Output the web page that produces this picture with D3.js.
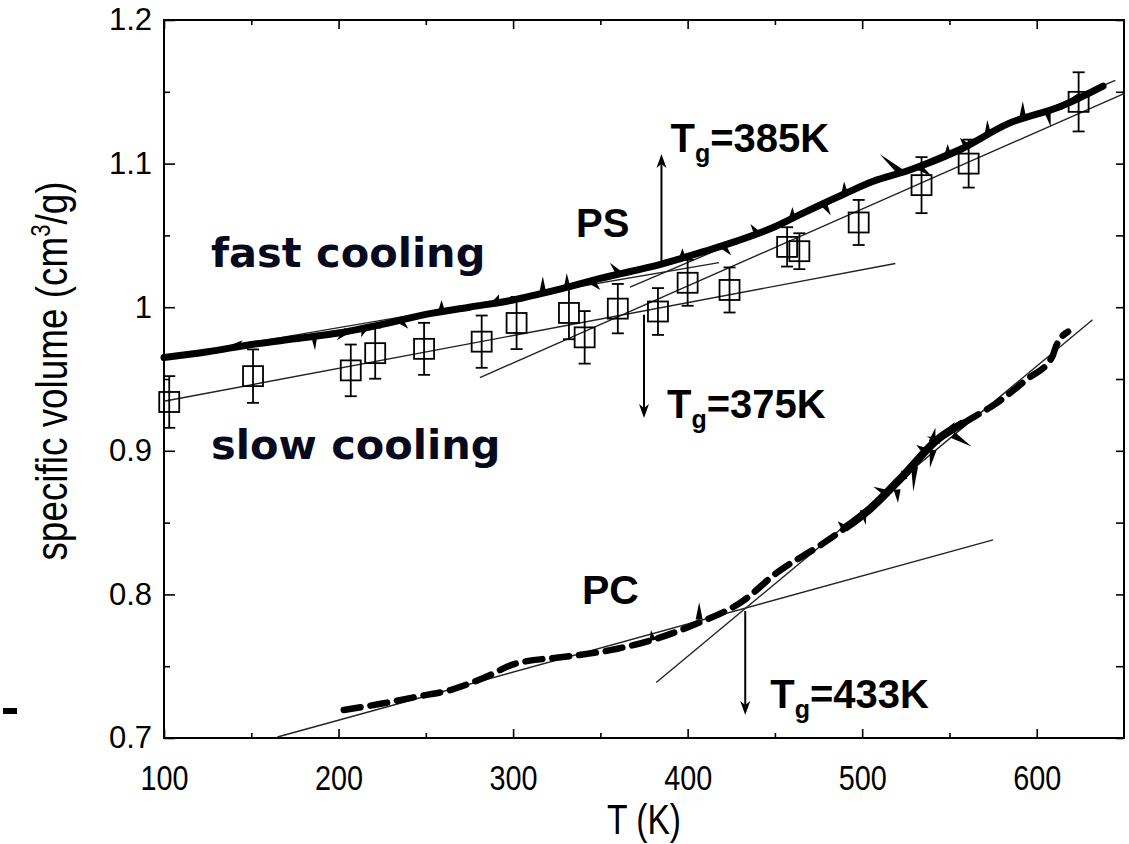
<!DOCTYPE html>
<html>
<head>
<meta charset="utf-8">
<script src="https://cdn.jsdelivr.net/npm/d3@7"></script>
<style>
  body { margin: 0; background: #fff; }
  svg { display: block; }
  .tick text { fill: #000; }
</style>
</head>
<body>
<svg id="chart" width="1129" height="844"></svg>
<script>
// data
const xMajor = [100, 200, 300, 400, 500, 600];
const xMinor = [150, 250, 350, 450, 550];
const yMajor = [0.7, 0.8, 0.9, 1.0, 1.1, 1.2];
const yMinor = [0.75, 0.85, 0.95, 1.05, 1.15];

// PS slow cooling: squares with error bars
const psSlowT = [103, 151, 207, 221, 249, 282, 302, 332, 341, 360, 383, 400, 424, 457, 464, 498, 534, 561, 624];
const psSlowV = [0.934, 0.952, 0.956, 0.968, 0.971, 0.976, 0.989, 0.996, 0.979, 0.999, 0.997, 1.017, 1.012, 1.042, 1.039, 1.059, 1.085, 1.100, 1.143];
const psSlowErr = [0.018, 0.0186, 0.018, 0.0178, 0.0181, 0.0182, 0.0182, 0.0183, 0.0183, 0.0172, 0.0163, 0.016, 0.0157, 0.0137, 0.0125, 0.0157, 0.0195, 0.0167, 0.0206];

// PS fast cooling: thick noisy curve
const psFast = [[100, 0.965], [125, 0.969], [150, 0.974], [175, 0.978], [200, 0.982], [225, 0.988], [250, 0.995],
  [275, 1.000], [300, 1.005], [325, 1.012], [350, 1.020], [385, 1.030], [410, 1.039], [428, 1.046], [450, 1.056],
  [467, 1.066], [490, 1.079], [506, 1.0875], [526, 1.095], [555, 1.109], [584, 1.128], [614, 1.140], [638, 1.154]];
const psFastSpikes = [[186, 0.981, 186.5, 0.970], [205, 0.984, 199, 0.977], [215, 0.986, 213, 0.979],
  [259, 0.997, 259, 1.005], [317, 1.010, 317, 1.0215], [331, 1.013, 330.7, 1.0238], [361, 1.023, 355.5, 1.031],
  [397, 1.034, 397, 1.0411], [460, 1.062, 460, 1.0697], [490, 1.079, 489.6, 1.0875], [522, 1.094, 510, 1.1066],
  [549, 1.106, 549, 1.1137], [572, 1.120, 571.7, 1.1303], [592, 1.132, 592, 1.1434], [606, 1.137, 608, 1.1256],
  [140, 0.972, 145, 0.977], [235, 0.991, 240, 0.985], [290, 1.003, 292, 1.009], [345, 1.018, 350, 1.012],
  [420, 1.043, 425, 1.036], [440, 1.051, 436, 1.058], [478, 1.072, 482, 1.064], [532, 1.098, 540, 1.091],
  [560, 1.112, 556, 1.118], [620, 1.143, 625, 1.150]];

// PC: thick dashed curve
const pcCurve = [[203, 0.7195], [225, 0.724], [245, 0.7288], [264, 0.7334], [283, 0.7418], [302, 0.752], [331, 0.7567],
  [355, 0.761], [379, 0.768], [404, 0.779], [432, 0.7957], [451, 0.815], [477, 0.835], [490, 0.846], [504, 0.859],
  [523, 0.882], [543, 0.9077], [558, 0.9193], [577, 0.9332], [594, 0.9495], [609, 0.9657], [611, 0.9727], [618, 0.983]];
const pcNoisy = [485, 565];
const pcSpikes = [[406.6, 0.7826, 406.6, 0.7945], [500.6, 0.8589, 502, 0.8484], [514, 0.8705, 506.4, 0.875],
  [520, 0.873, 520.5, 0.8636], [524, 0.880, 522.6, 0.8868], [530, 0.889, 529.3, 0.8716], [545, 0.907, 537, 0.91],
  [552, 0.911, 562.6, 0.903], [540.6, 0.9007, 538.8, 0.888], [540, 0.906, 542, 0.916], [548, 0.912, 553, 0.920],
  [536, 0.900, 531, 0.904], [490, 0.846, 486, 0.851], [380, 0.768, 379, 0.775]];

// straight-line fits (end points)
const fitLines = [
  [[100, 0.9345], [519, 1.0304]],   // PS slow, glass
  [[281, 0.951], [650, 1.1488]],    // PS slow, melt
  [[100, 0.965], [418, 1.031]],     // PS fast, glass
  [[367, 1.014], [645, 1.158]],     // PS fast, melt
  [[165, 0.7007], [575, 0.838]],    // PC, glass
  [[382, 0.7386], [632, 0.9913]]    // PC, melt
];

// Tg arrows and labels
const tgT = [385, 375, 433];
const tgFrom = [1.0305, 0.9948, 0.7885];
const tgTo = [1.1066, 0.9228, 0.716];
const tgLabel = ["385K", "375K", "433K"];

const width = 1129, height = 844;
const margin = {top: 20, right: 5, bottom: 106, left: 164};

const svg = d3.select("#chart");

const x = d3.scaleLinear().domain([100, 650]).range([margin.left, width - margin.right]);
const y = d3.scaleLinear().domain([0.7, 1.2]).range([height - margin.bottom, margin.top]);

// axes
// --------------------------------------------------------
const sans = "'Liberation Sans', Arial, Helvetica, sans-serif";
const squeeze = 0.8;   // original uses a narrow Helvetica for these

function styleAxis(g) {
  g.select(".domain").remove();
  g.selectAll(".tick line").attr("stroke", "#000").attr("stroke-width", 1.6);
}

svg.append("g")
  .attr("transform", `translate(0,${y(0.7)})`)
  .call(d3.axisBottom(x).tickValues(xMajor).tickSize(-9).tickPadding(26).tickFormat(d3.format("d")))
  .call(styleAxis)
  .call(g => g.selectAll("text")
    .style("font-family", sans).style("font-size", "36px")
    .attr("transform", `scale(${squeeze},1)`));

svg.append("g")
  .attr("transform", `translate(0,${y(0.7)})`)
  .call(d3.axisBottom(x).tickValues(xMinor).tickSize(-5).tickFormat(""))
  .call(styleAxis);

svg.append("g")
  .attr("transform", `translate(0,${y(1.2)})`)
  .call(d3.axisTop(x).tickValues(xMajor).tickSize(-9).tickFormat(""))
  .call(styleAxis);

svg.append("g")
  .attr("transform", `translate(0,${y(1.2)})`)
  .call(d3.axisTop(x).tickValues(xMinor).tickSize(-5).tickFormat(""))
  .call(styleAxis);

svg.append("g")
  .attr("transform", `translate(${x(100)},0)`)
  .call(d3.axisLeft(y).tickValues(yMajor).tickSize(-11).tickPadding(12).tickFormat(d => String(+d.toFixed(2))))
  .call(styleAxis)
  .call(g => g.selectAll("text").style("font-family", sans).style("font-size", "31px"));

svg.append("g")
  .attr("transform", `translate(${x(100)},0)`)
  .call(d3.axisLeft(y).tickValues(yMinor).tickSize(-6).tickFormat(""))
  .call(styleAxis);

svg.append("g")
  .attr("transform", `translate(${x(650)},0)`)
  .call(d3.axisRight(y).tickValues(yMajor.concat(yMinor)).tickSize(-8).tickFormat(""))
  .call(styleAxis);

// frame
svg.append("rect")
  .attr("x", x(100)).attr("y", y(1.2))
  .attr("width", x(650) - x(100)).attr("height", y(0.7) - y(1.2))
  .attr("fill", "none").attr("stroke", "#000").attr("stroke-width", 2);

// axis titles
svg.append("text")
  .attr("transform", `translate(${(x(100) + x(650)) / 2},834) scale(${squeeze},1)`)
  .attr("text-anchor", "middle")
  .style("font-family", sans).style("font-size", "42px")
  .text("T (K)");

const yt = svg.append("text")
  .attr("transform", `translate(67,${(y(0.7) + y(1.2)) / 2 - 8}) rotate(-90) scale(0.82,1)`)
  .attr("text-anchor", "middle")
  .style("font-family", sans).style("font-size", "45px");
yt.append("tspan").text("specific volume (cm");
yt.append("tspan").attr("dy", -17).style("font-size", "27px").text("3");
yt.append("tspan").attr("dy", 17).text("/g)");

// little mark at the left edge of the original
svg.append("rect").attr("x", 3).attr("y", 708).attr("width", 14).attr("height", 6).attr("fill", "#000");

// fit lines
// --------------------------------------------------------
const line = d3.line().x(d => x(d[0])).y(d => y(d[1]));

svg.append("g").selectAll("path")
  .data(fitLines)
  .join("path")
    .attr("d", line)
    .attr("fill", "none")
    .attr("stroke", "#222")
    .attr("stroke-width", 1.4);

// spikes of the noisy curves
function spikes(data) {
  return data.map(s => {
    const bx = x(s[0]), by = y(s[1]), tx = x(s[2]), ty = y(s[3]);
    const dx = tx - bx, dy = ty - by, len = Math.hypot(dx, dy) || 1;
    const nx = -dy / len * 3.5, ny = dx / len * 3.5;
    return `M${bx + nx},${by + ny}L${tx},${ty}L${bx - nx},${by - ny}Z`;
  });
}

const smooth = d3.line().x(d => x(d[0])).y(d => y(d[1])).curve(d3.curveMonotoneX);

// PC curve
// --------------------------------------------------------
svg.append("path")
  .datum(pcCurve)
  .attr("d", smooth)
  .attr("fill", "none")
  .attr("stroke", "#000")
  .attr("stroke-width", 6.5)
  .attr("stroke-linecap", "round")
  .attr("stroke-dasharray", "17,10");

svg.append("path")
  .datum(pcCurve.filter(d => d[0] >= pcNoisy[0] && d[0] <= pcNoisy[1]))
  .attr("d", smooth)
  .attr("fill", "none")
  .attr("stroke", "#000")
  .attr("stroke-width", 8);

svg.append("g").selectAll("path")
  .data(spikes(pcSpikes))
  .join("path")
    .attr("d", d => d)
    .attr("fill", "#000");

// PS fast curve
svg.append("path")
  .datum(psFast)
  .attr("d", smooth)
  .attr("fill", "none")
  .attr("stroke", "#000")
  .attr("stroke-width", 7)
  .attr("stroke-linecap", "round");

svg.append("g").selectAll("path")
  .data(spikes(psFastSpikes))
  .join("path")
    .attr("d", d => d)
    .attr("fill", "#000");

// PS slow: error bars + squares
// --------------------------------------------------------
const pts = svg.append("g").selectAll("g")
  .data(psSlowT.map((t, i) => ({t, v: psSlowV[i], e: psSlowErr[i]})))
  .join("g")
    .attr("stroke", "#000")
    .attr("stroke-width", 1.8)
    .attr("fill", "none");

pts.append("line")
  .attr("x1", d => x(d.t)).attr("x2", d => x(d.t))
  .attr("y1", d => y(d.v - d.e)).attr("y2", d => y(d.v + d.e));
pts.append("line")
  .attr("x1", d => x(d.t) - 6).attr("x2", d => x(d.t) + 6)
  .attr("y1", d => y(d.v - d.e)).attr("y2", d => y(d.v - d.e));
pts.append("line")
  .attr("x1", d => x(d.t) - 6).attr("x2", d => x(d.t) + 6)
  .attr("y1", d => y(d.v + d.e)).attr("y2", d => y(d.v + d.e));
pts.append("rect")
  .attr("x", d => x(d.t) - 10).attr("y", d => y(d.v) - 10)
  .attr("width", 20).attr("height", 20);

// Tg arrows
// --------------------------------------------------------
const labelDx = [9, 23, 25];
const labelDy = [-2, 0, -7];

tgT.forEach((t, i) => {
  const ax = x(t), y0 = y(tgFrom[i]), y1 = y(tgTo[i]);
  const dir = y1 < y0 ? 1 : -1;
  svg.append("line")
    .attr("x1", ax).attr("x2", ax)
    .attr("y1", y0).attr("y2", y1 + dir * 10)
    .attr("stroke", "#000").attr("stroke-width", 2);
  svg.append("path")
    .attr("d", `M${ax},${y1}L${ax - 5},${y1 + dir * 14}L${ax},${y1 + dir * 10}L${ax + 5},${y1 + dir * 14}Z`)
    .attr("fill", "#000");

  const lbl = svg.append("text")
    .attr("x", ax + labelDx[i]).attr("y", y1 + labelDy[i])
    .style("font-family", sans).style("font-weight", "bold").style("font-size", "40px");
  lbl.append("tspan").text("T");
  lbl.append("tspan").attr("dy", 10).style("font-size", "25px").text("g");
  lbl.append("tspan").attr("dy", -10).text("=" + tgLabel[i]);
});

// labels
// --------------------------------------------------------
svg.append("text").attr("x", 576).attr("y", 237)
  .style("font-family", sans).style("font-weight", "bold").style("font-size", "40px").text("PS");
svg.append("text").attr("x", 582).attr("y", 604)
  .style("font-family", sans).style("font-weight", "bold").style("font-size", "41px").text("PC");

svg.append("text").attr("x", 211).attr("y", 267)
  .style("font-family", "'DejaVu Sans', Verdana, sans-serif").style("font-weight", "bold")
  .style("font-size", "41.5px").attr("fill", "#060a1c").text("fast cooling");
svg.append("text").attr("x", 211).attr("y", 459)
  .style("font-family", "'DejaVu Sans', Verdana, sans-serif").style("font-weight", "bold")
  .style("font-size", "41.5px").attr("fill", "#060a1c").text("slow cooling");
</script>
</body>
</html>
